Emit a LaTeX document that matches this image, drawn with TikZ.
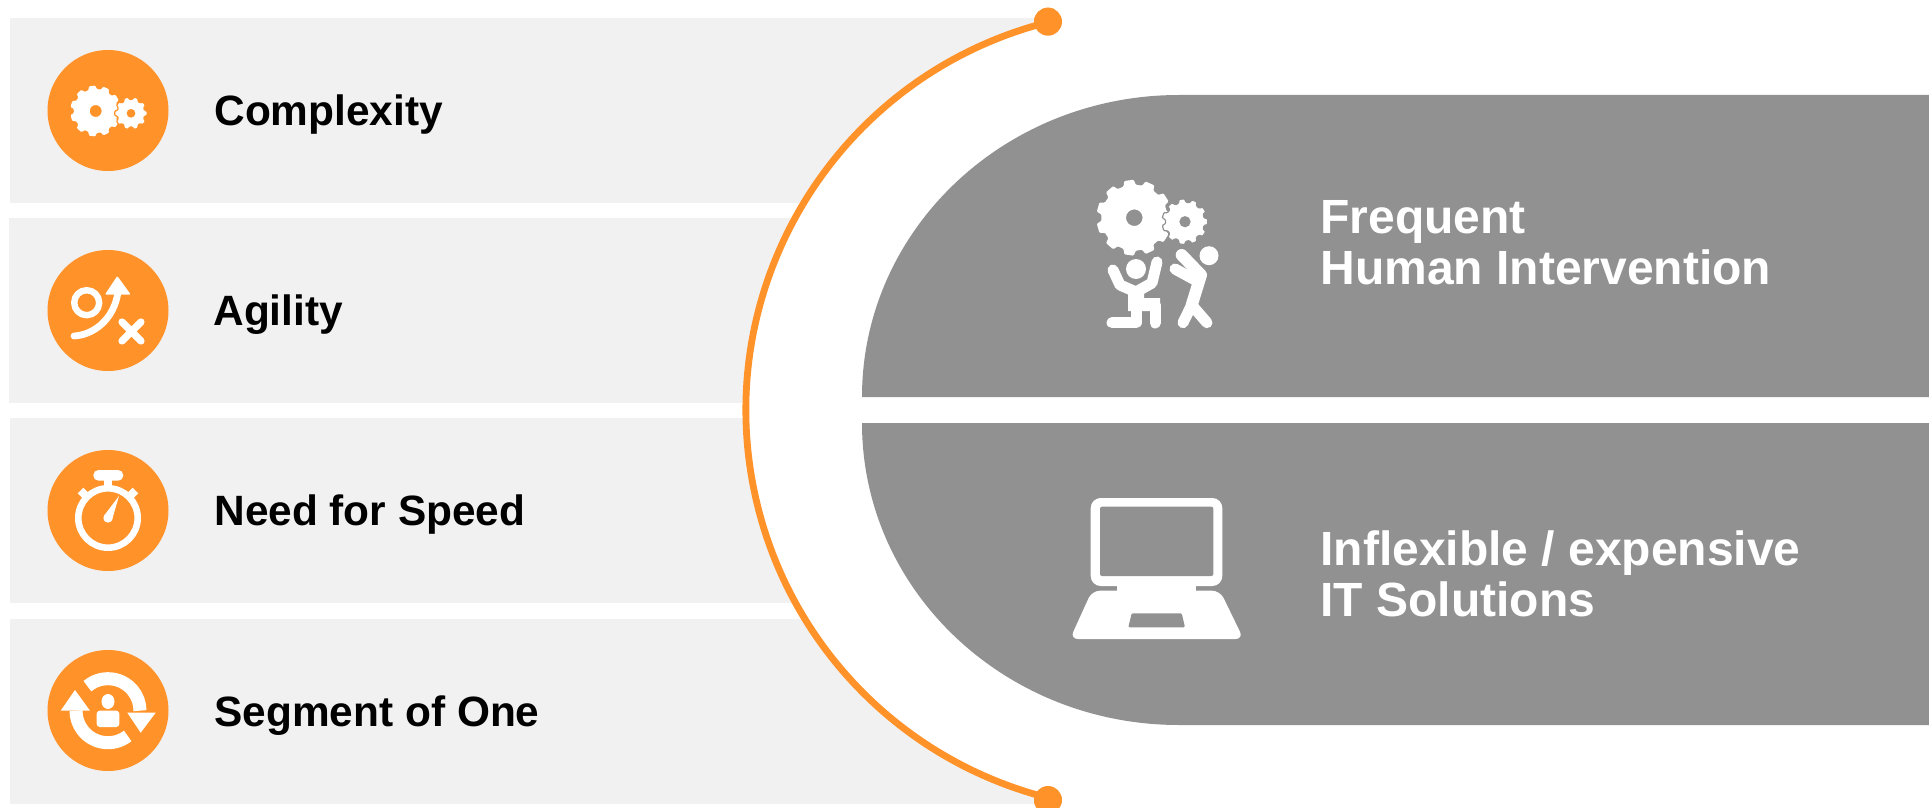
\documentclass[tikz,border=0pt]{standalone}
\usepackage{fontspec}
\setmainfont{Liberation Sans}
\definecolor{orng}{HTML}{FF932A}
\definecolor{greyband}{HTML}{919191}
\definecolor{panelgrey}{HTML}{F1F1F1}
\newcommand{\gearshape}[7]{% cx cy outer inner teeth hole halo-colour
  \pgfmathsetmacro{\gs}{360/#5}
  \path[fill=white,draw=#7,line width=0.6pt,even odd rule,rounded corners=0.5pt]
    ({#1+#4*cos(-0.33*\gs)},{#2+#4*sin(-0.33*\gs)})
    \foreach \gi in {1,...,#5}{
      -- ({#1+#3*cos((\gi-1)*\gs-0.22*\gs)},{#2+#3*sin((\gi-1)*\gs-0.22*\gs)})
      -- ({#1+#3*cos((\gi-1)*\gs+0.22*\gs)},{#2+#3*sin((\gi-1)*\gs+0.22*\gs)})
      -- ({#1+#4*cos((\gi-1)*\gs+0.33*\gs)},{#2+#4*sin((\gi-1)*\gs+0.33*\gs)})
      -- ({#1+#4*cos(\gi*\gs-0.33*\gs)},{#2+#4*sin(\gi*\gs-0.33*\gs)})
    } -- cycle
    (#1,#2) circle[radius=#6];
}
\tikzset{
  panel/.style={fill=panelgrey,draw=none},
  badge/.style={circle,fill=orng,draw=none,minimum size=60.5pt,inner sep=0pt},
  enddot/.style={circle,fill=orng,draw=none,minimum size=14pt,inner sep=0pt},
  rowlabel/.style={anchor=base west,inner sep=0pt,text=black,font=\fontsize{21.2}{25}\selectfont\bfseries},
  bandlabel/.style={anchor=base west,inner sep=0pt,text=white,font=\fontsize{24}{29}\selectfont\bfseries},
  band/.style={fill=greyband,draw=none},
  iconline/.style={draw=white,line cap=round,line join=round,fill=none},
  arcline/.style={draw=orng,line width=3.4pt}
}
\begin{document}
\begin{tikzpicture}[x=0.5pt,y=-0.5pt]
\useasboundingbox (0,0) rectangle (1929,808);
% left panels
\fill[panel] (10,18) rectangle (1048,203);
\fill[panel] (9,218) rectangle (1048,403);
\fill[panel] (10,418) rectangle (1048,603);
\fill[panel] (10,619) rectangle (1048,804);
% end dots and arc
\node[enddot] (dotT) at (1048,21.7) {};
\node[enddot] (dotB) at (1048,800) {};
\coordinate (arcT) at (1035.7,25.5);
\coordinate (arcB) at (1035.7,795.5);
% white mask right of arc
\fill[white] (dotT.center) -- (arcT) arc[start angle=254,end angle=106,radius=400] -- (dotB.center) -- (1060,808) -- (1929,808) -- (1929,0) -- (1060,0) -- cycle;
\draw[arcline] (dotT.center) -- (arcT) arc[start angle=254,end angle=106,radius=400] -- (dotB.center);
\node[enddot] at (dotT.center) {};
\node[enddot] at (dotB.center) {};
% grey bands
\fill[band] (862,397) arc[start angle=180,end angle=270,x radius=317,y radius=302] -- (1929,95) -- (1929,397) -- cycle;
\fill[band] (862,423) arc[start angle=180,end angle=90,x radius=317,y radius=302] -- (1929,725) -- (1929,423) -- cycle;
% badges
\node[badge] (b1) at (108,110.5) {};
\node[badge] (b2) at (108,310.5) {};
\node[badge] (b3) at (108,510.5) {};
\node[badge] (b4) at (108,710.5) {};
% icon 1 gears
\gearshape{95.7}{111}{25.5}{22}{11}{6}{none}
\gearshape{131}{113.3}{16.5}{13.8}{10}{3.7}{orng}
% icon 2 play
\draw[iconline,line width=3.2pt] (86.7,302.7) circle[radius=12.5];
\draw[iconline,line width=3.4pt] (74,336) .. controls (93,335) and (114,320) .. (118,292);
\fill[white,rounded corners=0.5pt] (117.3,276) -- (130.7,294.5) -- (105,294.5) -- cycle;
\draw[iconline,line width=3.6pt] (122,322) -- (141,341) (141,322) -- (122,341);
% icon 3 stopwatch
\draw[iconline,line width=3.3pt] (108,518) circle[radius=29.7];
\fill[white,rounded corners=2.6pt] (93.3,470) rectangle (123.3,480.7);
\fill[white] (104,479) rectangle (112,491);
\draw[white,line width=4pt] (86,496) -- (80.5,490.5);
\draw[white,line width=4pt] (130,496) -- (135.5,490.5);
\fill[white] (119,496) -- (112,520) -- (103.8,516) -- cycle;
\fill[white] (108,518) circle[radius=4.7];
% icon 4 segment of one
\draw[draw=white,line width=6.5pt] (108,710.7) ++(-130:32) arc[start angle=-130,end angle=0,radius=32];
\fill[white] (127.3,712.7) -- (155.7,712.7) -- (140.7,732.7) -- cycle;
\draw[draw=white,line width=6.5pt] (108,710.7) ++(52:32) arc[start angle=52,end angle=180,radius=32];
\fill[white] (60.7,710.7) -- (90,710.7) -- (75,690) -- cycle;
\fill[white] (108,701.5) ellipse[x radius=6.5,y radius=7.5];
\fill[white,rounded corners=1.5pt] (96.7,710.7) rectangle (119.3,727);
% frequent human intervention icon
\gearshape{1134.3}{217.7}{38}{33}{11}{8.3}{none}
\gearshape{1185}{221.7}{23}{19.5}{11}{5}{greyband}
\fill[white] (1136,269) circle[radius=10];
\draw[iconline,line width=5.5pt] (1113,270) -- (1120,285) -- (1136,292) -- (1152,283) -- (1157,262);
\fill[white] (1128,288) -- (1144,288) -- (1144,298) -- (1160,298) -- (1160,311) -- (1128,311) -- cycle;
\draw[iconline,line width=5.5pt] (1112,322.7) -- (1136,322.7) -- (1136,305);
\draw[iconline,line width=5.5pt] (1155,305) -- (1155,323);
\fill[white] (1209,255.7) circle[radius=9.5];
\draw[iconline,line width=6pt] (1181.7,255) -- (1201,275) -- (1191.7,305);
\draw[iconline,line width=5.5pt] (1191.7,305) -- (1183,322.7);
\draw[iconline,line width=5.5pt] (1191.7,305) -- (1207,322.7);
\draw[iconline,line width=5.5pt] (1175,269) -- (1197,281);
% laptop icon
\fill[white,rounded corners=5pt,even odd rule] (1090.7,498) rectangle (1222.3,586);
\fill[greyband,rounded corners=1pt] (1100,506.7) rectangle (1213.3,576);
\fill[white] (1117.3,584) rectangle (1196,592);
\fill[white,rounded corners=4pt] (1092,590.7) -- (1220,590.7) -- (1243.5,639) -- (1070,639) -- cycle;
\fill[greyband,rounded corners=0.6pt] (1131.7,613.3) -- (1181.7,613.3) -- (1185,627.3) -- (1128.3,627.3) -- cycle;
% labels
\node[rowlabel] (t1) at (214,125.5) {Complexity};
\node[rowlabel] (t2) at (213,325) {Agility};
\node[rowlabel] (t3) at (214,525) {Need for Speed};
\node[rowlabel] (t4) at (214,726) {Segment of One};
\node[bandlabel] (h1) at (1320,234) {Frequent};
\node[bandlabel] (h2) at (1320,285) {Human Intervention};
\node[bandlabel] (h3) at (1320,565) {Inflexible / expensive};
\node[bandlabel] (h4) at (1320,616) {IT Solutions};
\end{tikzpicture}
\end{document}
